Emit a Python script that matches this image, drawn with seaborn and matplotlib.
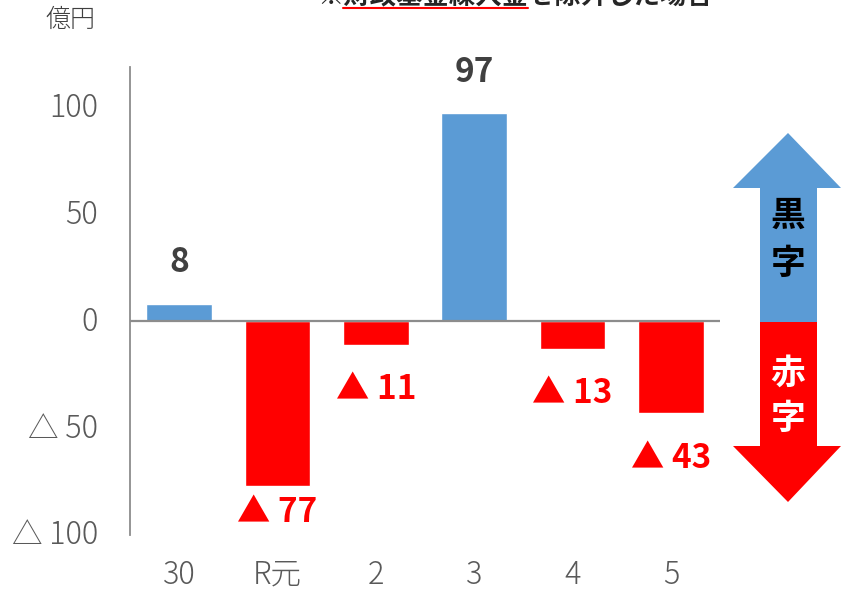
import matplotlib
matplotlib.use("Agg")
import matplotlib.pyplot as plt
import matplotlib.transforms as mtransforms
import seaborn as sns
import pandas as pd
from matplotlib.patches import Polygon

# ---- data ----
years = ["30", "R元", "2", "3", "4", "5"]
balance = [8, -77, -11, 97, -13, -43]
y_ticks = [-100, -50, 0, 50, 100]
y_tick_labels = ["△ 100", "△ 50", "0", "50", "100"]

BLUE = "#5B9BD5"
RED = "#FF0000"

df = pd.DataFrame({"year": years, "value": balance})
df["sign"] = ["pos" if v >= 0 else "neg" for v in df["value"]]

sns.set_theme(style="white")
plt.rcParams["font.family"] = ["Noto Sans CJK JP", "DejaVu Sans"]

fig = plt.figure(figsize=(8.41, 5.93), dpi=100)
ax = fig.add_axes([130 / 841, 58 / 593, 590 / 841, 468 / 593])

sns.barplot(data=df, x="year", y="value", hue="sign", order=years,
            palette={"pos": BLUE, "neg": RED}, dodge=False, width=0.67,
            saturation=1, legend=False, ax=ax)

ax.set_xlim(-0.5, len(years) - 0.5)
ax.set_ylim(-100, 118.7)
ax.axhline(0, color="#8C8C8C", lw=1.6, zorder=5)

ax.set_yticks(y_ticks)
ax.set_yticklabels(y_tick_labels)
ax.tick_params(axis="y", length=0, pad=23, labelsize=22, labelcolor="#595959")
ax.tick_params(axis="x", length=0, pad=17, labelsize=22, labelcolor="#595959")
for t in ax.get_xticklabels() + ax.get_yticklabels():
    t.set_fontweight("light")
# nudge y labels up a little, like the original
shift = mtransforms.ScaledTranslation(0, 3 / 100, fig.dpi_scale_trans)
for t in ax.get_yticklabels():
    t.set_transform(t.get_transform() + shift)
ax.set_xlabel("")
ax.set_ylabel("")
for s in ["top", "right", "bottom"]:
    ax.spines[s].set_visible(False)
ax.spines["left"].set_color("#8C8C8C")
ax.spines["left"].set_linewidth(1.3)

# data labels
px_per_unit = 468 / 218.7
for i, v in enumerate(balance):
    if v >= 0:
        ax.annotate(f"{v}", (i, v), xytext=(0, 41 / 1.389), textcoords="offset points",
                    ha="center", va="center", fontsize=24, fontweight="bold",
                    color="#404040")
    else:
        off = 45 / px_per_unit
        y = max(v - off, -100 + 22 / px_per_unit)
        ax.text(i, y, f"▲ {abs(v)}", ha="center", va="center", fontsize=24,
                fontweight="bold", color=RED)

# overlay for decorations (pixel coordinates)
ov = fig.add_axes([0, 0, 1, 1])
ov.set_xlim(0, 841)
ov.set_ylim(593, 0)
ov.axis("off")

ov.text(70, 20, "億円", ha="center", va="center", fontsize=18, color="#404040",
        fontweight="light")

ov.text(515, 4, "※財政基金繰入金を除外した場合", ha="center", va="baseline",
        fontsize=19, fontweight="bold", color="#262626")
ov.plot([343, 528], [8, 8], color=RED, lw=1.5)

# black/red double arrow
up = Polygon([(788, 133), (841, 188), (817, 188), (817, 322), (760, 322),
              (760, 188), (733, 188)], closed=True, facecolor=BLUE, edgecolor="none")
down = Polygon([(760, 322), (817, 322), (817, 446), (841, 446), (788, 502),
                (733, 446), (760, 446)], closed=True, facecolor=RED, edgecolor="none")
ov.add_patch(up)
ov.add_patch(down)
for ch, yy, col in [("黒", 215, "black"), ("字", 263, "black"),
                    ("赤", 373, "white"), ("字", 418, "white")]:
    ov.text(788, yy, ch, ha="center", va="center", fontsize=25,
            fontweight="bold", color=col)

fig.savefig("out.png", dpi=100)
